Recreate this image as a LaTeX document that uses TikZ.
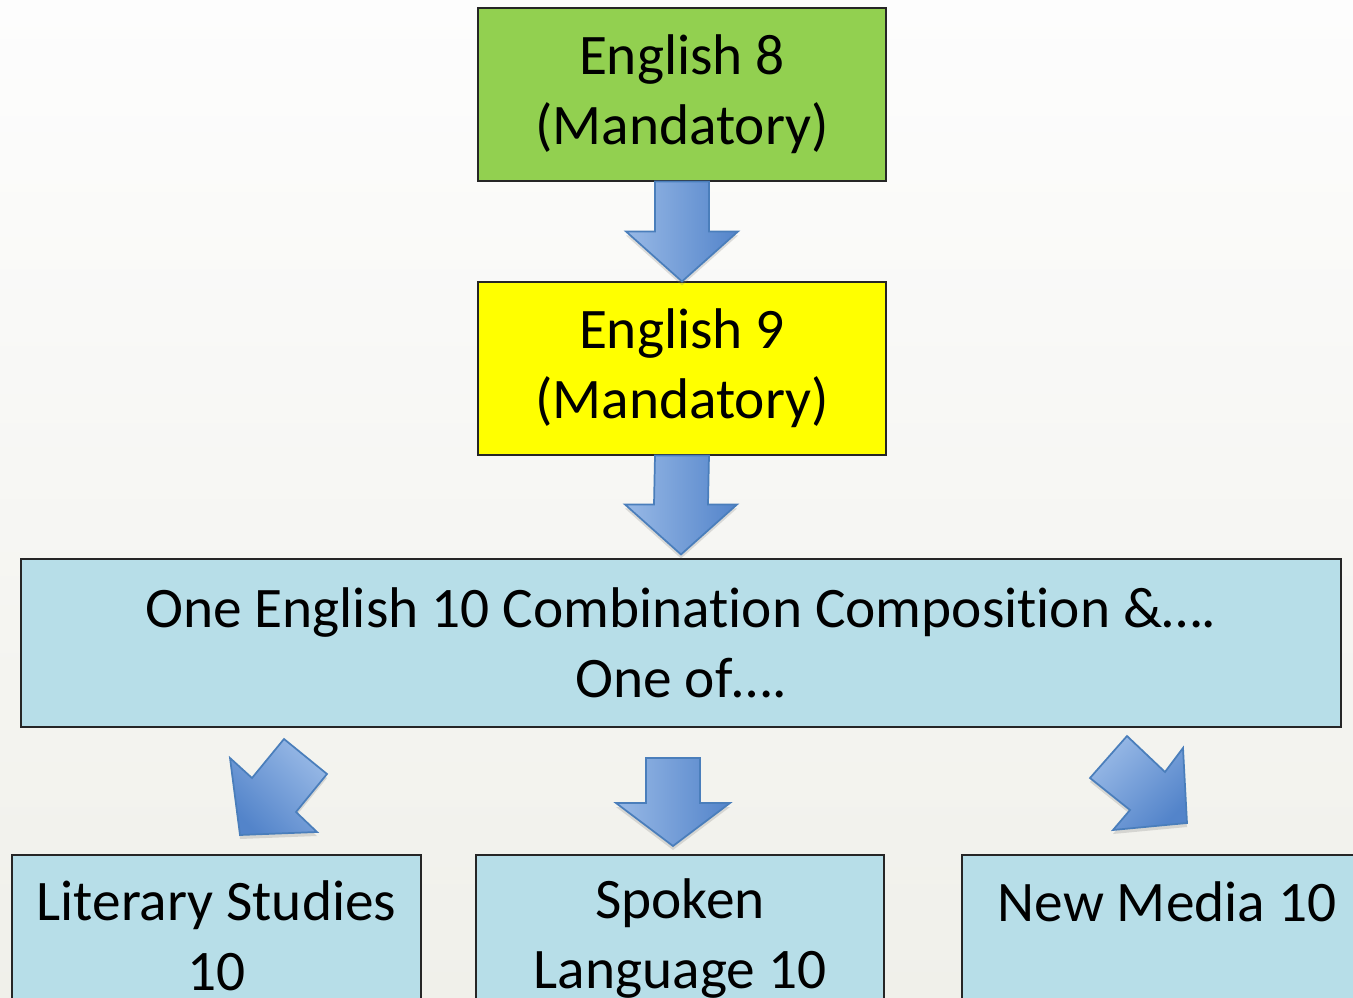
\documentclass[tikz,border=0pt]{standalone}
\usepackage{fontspec}
\setmainfont{Carlito}[RawFeature={-liga;-clig;-dlig}]
\usetikzlibrary{calc,shadows}
\definecolor{bgtop}{HTML}{FDFDFD}
\definecolor{bgbot}{HTML}{F0F0EA}
\definecolor{greenbox}{HTML}{92D050}
\definecolor{yellowbox}{HTML}{FFFF00}
\definecolor{bluebox}{HTML}{B7DEE8}
\definecolor{arrowL}{HTML}{98B9E6}
\definecolor{arrowR}{HTML}{5384CA}
\definecolor{arrowD}{HTML}{4A7EBB}
\begin{document}
\begin{tikzpicture}[x=0.75pt,y=-0.75pt,
  box/.style={draw=black!85, line width=0.8pt, inner sep=0pt, align=center,
    minimum width=306pt, minimum height=129.75pt,
    font=\fontsize{43}{52.5}\selectfont},
  txt/.style={align=center, inner sep=0pt, font=\fontsize{43}{52.5}\selectfont},
  blockarrow/.style={draw=arrowD, line width=1.3pt, line join=miter,
    left color=arrowL, right color=arrowR,
    drop shadow={opacity=0.25, shadow xshift=0pt, shadow yshift=-3pt}}]
% background
\shade[top color=bgtop, bottom color=bgbot] (0,0) rectangle (1353,998);
\useasboundingbox (0,0) rectangle (1353,998);
% boxes
\node[box, fill=greenbox] (e8) at (682,94.5) {English 8\\(Mandatory)};
\node[box, fill=yellowbox] (e9) at (682,368.5) {English 9\\(Mandatory)};
\node[box, fill=bluebox, minimum width=990pt, minimum height=126pt] (big) at (681,643)
  {One English 10 Combinat\kern0pt ion Composit\kern0pt ion \&….\\One of….};
\node[box, fill=bluebox, minimum width=306.75pt, minimum height=131.25pt] (lit) at (216.5,942.5) {};
\node[box, fill=bluebox, minimum height=131.25pt] (spk) at (680,942.5) {};
\node[box, fill=bluebox, minimum height=131.25pt] (nm) at (1166,942.5) {};
\node[txt] (littext) at (216.5,936) {Literary Studies\\10};
\node[txt] (spktext) at (680,939) {Spoken\\Language 10};
\node[txt] (nmtext) at (1167,902) {New Media 10};
% arrows English 8 -> English 9
\path[blockarrow] ($(e8.south)+(-27,0)$) -- ($(e8.south)+(27,0)$) -- ($(e9.north)+(27,-50)$)
  -- ($(e9.north)+(56,-50)$) -- (e9.north) -- ($(e9.north)+(-56,-50)$) -- ($(e9.north)+(-27,-50)$) -- cycle;
% English 9 -> big
\path[blockarrow] ($(e9.south)+(-27,0)$) -- ($(e9.south)+(27,0)$) -- ($(big.north)+(27,-54)$)
  -- ($(big.north)+(56,-54)$) -- ($(big.north)+(0,-4)$) -- ($(big.north)+(-56,-54)$) -- ($(big.north)+(-27,-54)$) -- cycle;
% big -> spoken
\coordinate (mt) at (673,758);
\path[blockarrow] ($(mt)+(-27,0)$) -- ($(mt)+(27,0)$) -- ($(mt)+(27,45)$) -- ($(mt)+(57,45)$)
  -- ($(mt)+(0,88)$) -- ($(mt)+(-57,45)$) -- ($(mt)+(-27,45)$) -- cycle;
% big -> literary (diagonal)
\path[blockarrow, shading angle=315] (284,739) -- (327,774) -- (296,812) -- (317,832)
  -- (240,835) -- (230,758) -- (252,778) -- cycle;
% big -> new media (diagonal)
\path[blockarrow, shading angle=45] (1090,778) -- (1127,736) -- (1165,772) -- (1183,748)
  -- (1187,823) -- (1113,830) -- (1130,810) -- cycle;
\end{tikzpicture}
\end{document}
